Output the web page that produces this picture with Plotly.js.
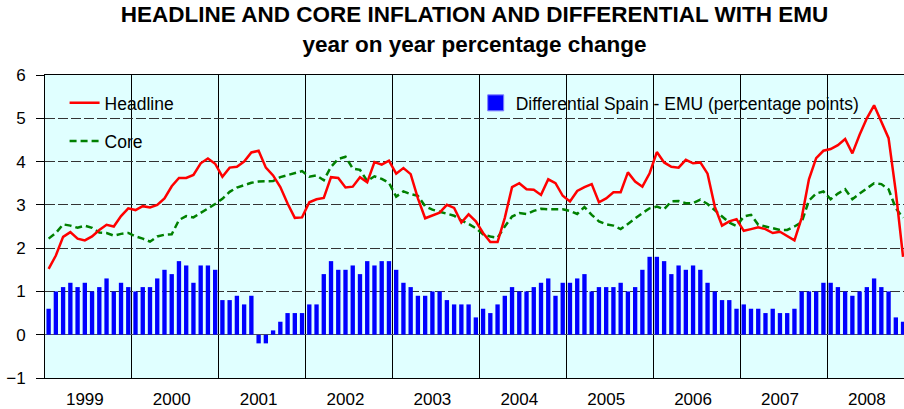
<!DOCTYPE html>
<html>
<head>
<meta charset="utf-8">
<script src="https://cdn.plot.ly/plotly-3.0.1.min.js"></script>
<style>html,body{margin:0;padding:0;background:#fff;}#chart{width:904px;height:409px;}</style>
</head>
<body>
<div id="chart"></div>
<script>
// Years shown on the x axis (monthly data, Jan 1999 - Nov 2008)
const years = ['1999','2000','2001','2002','2003','2004','2005','2006','2007','2008'];

// Headline inflation, Spain (y/y %), monthly
const headline = [
  1.52, 1.83, 2.26, 2.37, 2.22, 2.18, 2.27, 2.42, 2.54, 2.50, 2.74, 2.92,
  2.88, 2.97, 2.94, 3.00, 3.15, 3.43, 3.62, 3.62, 3.69, 3.96, 4.07, 3.95,
  3.65, 3.86, 3.88, 4.00, 4.21, 4.25, 3.86, 3.68, 3.41, 3.03, 2.70, 2.71,
  3.06, 3.13, 3.16, 3.64, 3.62, 3.40, 3.42, 3.64, 3.52, 3.99, 3.93, 4.02,
  3.72, 3.85, 3.71, 3.15, 2.69, 2.75, 2.82, 3.00, 2.93, 2.59, 2.78, 2.62,
  2.35, 2.14, 2.14, 2.70, 3.41, 3.50, 3.36, 3.35, 3.23, 3.59, 3.50, 3.21,
  3.08, 3.32, 3.41, 3.48, 3.06, 3.15, 3.29, 3.29, 3.75, 3.54, 3.42, 3.73,
  4.22, 3.98, 3.88, 3.86, 4.04, 3.96, 3.98, 3.72, 2.96, 2.52, 2.62, 2.67,
  2.40, 2.44, 2.48, 2.44, 2.35, 2.38, 2.27, 2.18, 2.70, 3.59, 4.08, 4.25,
  4.29, 4.38, 4.52, 4.19, 4.62, 5.00, 5.30, 4.92, 4.54, 3.30, 1.80
];

// Core inflation, Spain (y/y %), monthly
const core = [
  2.22, 2.35, 2.55, 2.52, 2.47, 2.52, 2.47, 2.36, 2.35, 2.29, 2.33, 2.35,
  2.27, 2.22, 2.15, 2.27, 2.31, 2.32, 2.65, 2.74, 2.71, 2.81, 2.92, 3.02,
  3.14, 3.30, 3.40, 3.46, 3.51, 3.54, 3.55, 3.55, 3.64, 3.69, 3.73, 3.78,
  3.65, 3.68, 3.57, 3.88, 4.06, 4.11, 3.84, 3.81, 3.55, 3.66, 3.60, 3.51,
  3.19, 3.31, 3.25, 3.21, 2.97, 2.89, 2.84, 2.80, 2.75, 2.64, 2.56, 2.46,
  2.32, 2.27, 2.24, 2.50, 2.73, 2.81, 2.79, 2.86, 2.91, 2.90, 2.90, 2.90,
  2.86, 2.79, 2.95, 2.77, 2.62, 2.55, 2.52, 2.44, 2.56, 2.69, 2.81, 2.92,
  2.96, 2.90, 3.08, 3.09, 3.04, 3.04, 3.12, 3.02, 2.88, 2.73, 2.59, 2.51,
  2.73, 2.77, 2.54, 2.50, 2.46, 2.42, 2.42, 2.50, 2.60, 3.10, 3.26, 3.31,
  3.13, 3.26, 3.36, 3.13, 3.26, 3.38, 3.50, 3.48, 3.36, 2.92, 2.70
];

// Differential Spain - EMU (percentage points), monthly
const differential = [
  0.6, 1.0, 1.1, 1.2, 1.1, 1.2, 1.0, 1.1, 1.3, 1.0, 1.2, 1.1,
  1.0, 1.1, 1.1, 1.3, 1.5, 1.4, 1.7, 1.6, 1.2, 1.6, 1.6, 1.5,
  0.8, 0.8, 0.9, 0.7, 0.9, -0.2, -0.2, 0.1, 0.3, 0.5, 0.5, 0.5,
  0.7, 0.7, 1.4, 1.7, 1.5, 1.5, 1.6, 1.4, 1.7, 1.6, 1.7, 1.7,
  1.5, 1.2, 1.1, 0.9, 0.9, 1.0, 1.0, 0.8, 0.7, 0.7, 0.7, 0.4,
  0.6, 0.5, 0.7, 0.9, 1.1, 1.0, 1.0, 1.1, 1.2, 1.3, 0.9, 1.2,
  1.2, 1.3, 1.4, 1.0, 1.1, 1.1, 1.1, 1.2, 1.0, 1.1, 1.5, 1.8,
  1.8, 1.7, 1.4, 1.6, 1.5, 1.6, 1.5, 1.2, 1.0, 0.8, 0.8, 0.6,
  0.7, 0.6, 0.6, 0.5, 0.6, 0.5, 0.5, 0.6, 1.0, 1.0, 1.0, 1.2,
  1.2, 1.1, 1.0, 0.9, 1.0, 1.1, 1.3, 1.1, 1.0, 0.4, 0.3
];

const seriesNames = {
  headline: 'Headline',
  core: 'Core',
  differential: 'Differential Spain - EMU (percentage points)'
};

// month index positions (0 = Jan 1999)
const monthIdx = headline.map((_, i) => i);
const yearTickVals = years.map((_, k) => k * 12 + 5);

const FONT = 'Liberation Sans, Arial, Helvetica, sans-serif';

const traces = [
  {
    type: 'bar', x: monthIdx, y: differential,
    marker: {color: '#0000FF', line: {width: 0}},
    showlegend: false, hoverinfo: 'skip'
  },
  {
    type: 'scatter', mode: 'lines', x: monthIdx, y: core, name: seriesNames.core,
    line: {color: '#008000', width: 2.5, dash: '7px,4px'},
    legend: 'legend2'
  },
  {
    type: 'scatter', mode: 'lines', x: monthIdx, y: headline, name: seriesNames.headline,
    line: {color: '#FF0000', width: 2.5},
    legend: 'legend'
  },
  {
    type: 'scatter', mode: 'markers', x: [null], y: [null], name: seriesNames.differential,
    marker: {symbol: 'square', size: 20, color: '#0000FF', line: {color: '#8080ff', width: 1}},
    legend: 'legend3', hoverinfo: 'skip'
  }
];

const legendBase = {
  xanchor: 'left', yanchor: 'middle', bgcolor: 'rgba(0,0,0,0)',
  borderwidth: 0, font: {family: FONT, size: 17.5, color: '#000'}
};

const layout = {
  width: 904, height: 409,
  margin: {l: 45, r: 0, t: 75, b: 31},
  paper_bgcolor: '#ffffff',
  plot_bgcolor: '#E0FFFF',
  font: {family: FONT, size: 17, color: '#000'},
  title: {
    text: '<b>HEADLINE AND CORE INFLATION AND DIFFERENTIAL WITH EMU</b><br><b>year on year percentage change</b>',
    font: {family: FONT, size: 22.5, color: '#000'},
    x: 0.5, xref: 'paper', xanchor: 'center',
    y: 0.945, yref: 'container', yanchor: 'top'
  },
  bargap: 0.4,
  showlegend: true,
  legend: Object.assign({}, legendBase, {x: 0.0228, y: 0.9076}),
  legend2: Object.assign({}, legendBase, {x: 0.0228, y: 0.782}),
  legend3: Object.assign({}, legendBase, {x: 0.5014, y: 0.9076}),
  xaxis: {
    range: [-0.5, 118.13],
    tickmode: 'array', tickvals: yearTickVals, ticktext: years,
    ticks: '', showgrid: false, zeroline: false,
    showline: true, mirror: true, linecolor: '#000', linewidth: 1,
    ticklabelstandoff: 6,
    tickfont: {family: FONT, size: 17, color: '#000'},
    minor: {tickmode: 'linear', tick0: -0.5, dtick: 12, showgrid: true, gridcolor: '#000', gridwidth: 1, ticks: ''}
  },
  yaxis: {
    range: [-1, 6], tickmode: 'linear', tick0: 0, dtick: 1,
    ticks: 'outside', ticklen: 8, tickcolor: '#000', tickwidth: 1,
    showgrid: true, gridcolor: '#333', griddash: '10px,3px', gridwidth: 1,
    zeroline: true, zerolinecolor: '#555', zerolinewidth: 1,
    showline: true, linecolor: '#000', linewidth: 1,
    ticklabelstandoff: 7,
    tickfont: {family: FONT, size: 17, color: '#000'}
  }
};

Plotly.newPlot('chart', traces, layout, {displayModeBar: false, staticPlot: true});
</script>
</body>
</html>
